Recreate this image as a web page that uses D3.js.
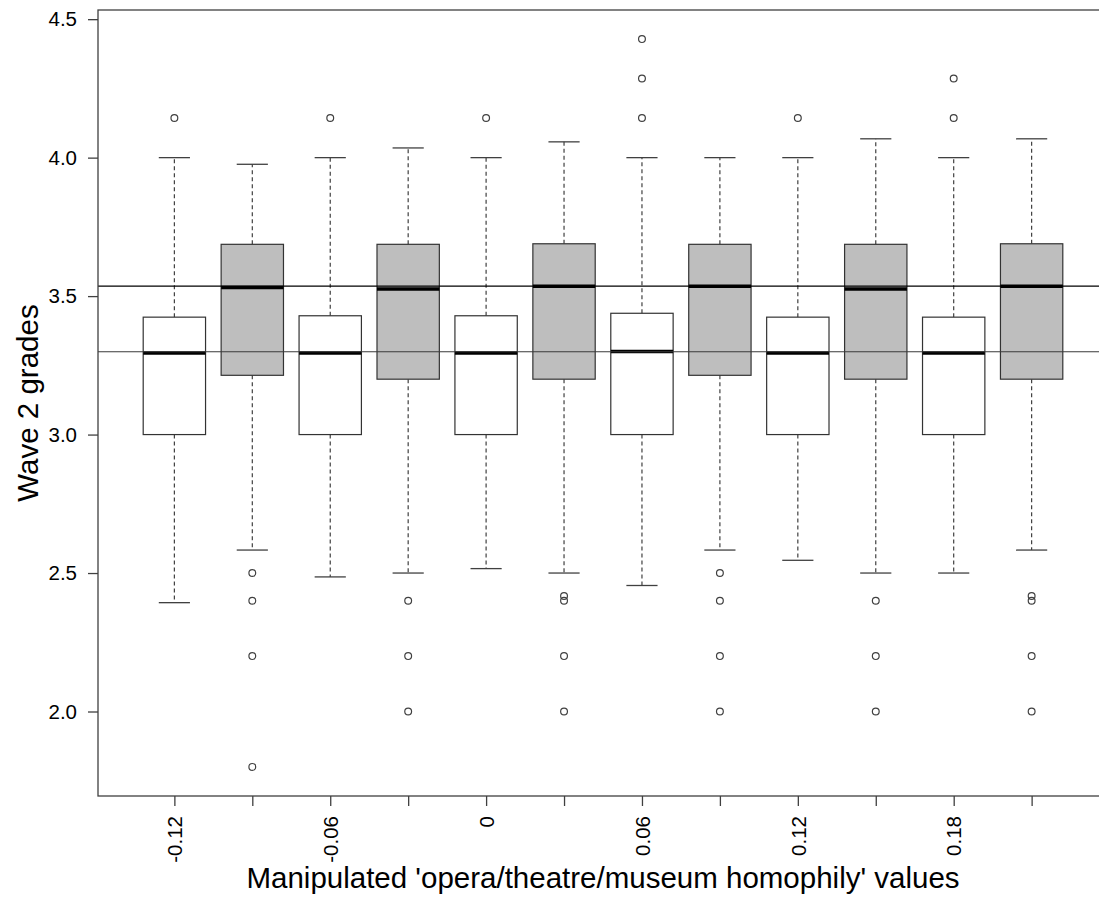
<!DOCTYPE html>
<html>
<head>
<meta charset="utf-8">
<script src="https://cdn.jsdelivr.net/npm/d3@7"></script>
<style>
  html, body { margin: 0; padding: 0; background: #ffffff; }
  svg { display: block; font-family: "Liberation Sans", Arial, sans-serif; }
</style>
</head>
<body>
<svg id="chart" width="1099" height="902"></svg>
<script>
// ---- data ----
const tickLabels = ["-0.12", "", "-0.06", "", "0", "", "0.06", "", "0.12", "", "0.18", ""];
const groups = ["white", "gray", "white", "gray", "white", "gray", "white", "gray", "white", "gray", "white", "gray"];
const lowerWhisker = [2.393, 2.583, 2.486, 2.5, 2.516, 2.5, 2.455, 2.583, 2.546, 2.5, 2.5, 2.583];
const q1 = [3.0, 3.214, 3.0, 3.2, 3.0, 3.2, 3.0, 3.214, 3.0, 3.2, 3.0, 3.2];
const medians = [3.295, 3.531, 3.295, 3.526, 3.295, 3.536, 3.3, 3.536, 3.295, 3.526, 3.295, 3.536];
const q3 = [3.424, 3.687, 3.429, 3.687, 3.429, 3.689, 3.438, 3.687, 3.424, 3.687, 3.424, 3.689];
const upperWhisker = [4.0, 3.976, 4.0, 4.035, 4.0, 4.057, 4.0, 4.0, 4.0, 4.068, 4.0, 4.068];
const outliers = [
  [4.143],
  [2.5, 2.4, 2.2, 1.8],
  [4.143],
  [2.4, 2.2, 2.0],
  [4.143],
  [2.417, 2.4, 2.2, 2.0],
  [4.143, 4.286, 4.428],
  [2.5, 2.4, 2.2, 2.0],
  [4.143],
  [2.4, 2.2, 2.0],
  [4.143, 4.286],
  [2.417, 2.4, 2.2, 2.0]
];
const referenceLines = [3.536, 3.299];
const yTicks = [2.0, 2.5, 3.0, 3.5, 4.0, 4.5];
const xTitle = "Manipulated 'opera/theatre/museum homophily' values";
const yTitle = "Wave 2 grades";

// ---- layout ----
const svg = d3.select("#chart");
const plot = { left: 98, right: 1108, top: 10, bottom: 796 };
const n = tickLabels.length;

const allVals = [].concat(lowerWhisker, upperWhisker, outliers.flat());
const yMin = d3.min(allVals), yMax = d3.max(allVals);
const yPad = 0.04 * (yMax - yMin);
const y = d3.scaleLinear().domain([yMin - yPad, yMax + yPad]).range([plot.bottom, plot.top]);
const xPad = 0.04 * n;
const x = d3.scaleLinear().domain([0.5 - xPad, n + 0.5 + xPad]).range([plot.left, plot.right]);
const unit = x(2) - x(1);
const boxW = 0.8 * unit;
const capW = 0.5 * boxW;
const fills = { white: "#ffffff", gray: "#bebebe" };
const lineCol = "#404040";

const boxes = d3.range(n).map(i => ({
  i, pos: i + 1, group: groups[i],
  lo: lowerWhisker[i], q1: q1[i], med: medians[i], q3: q3[i], hi: upperWhisker[i],
  out: outliers[i]
}));

const g = svg.append("g");

// whiskers
g.selectAll(".whisk-up").data(boxes).join("line")
  .attr("x1", d => x(d.pos)).attr("x2", d => x(d.pos))
  .attr("y1", d => y(d.q3)).attr("y2", d => y(d.hi))
  .attr("stroke", lineCol).attr("stroke-width", 1.2).attr("stroke-dasharray", "4,3");
g.selectAll(".whisk-lo").data(boxes).join("line")
  .attr("x1", d => x(d.pos)).attr("x2", d => x(d.pos))
  .attr("y1", d => y(d.q1)).attr("y2", d => y(d.lo))
  .attr("stroke", lineCol).attr("stroke-width", 1.2).attr("stroke-dasharray", "4,3");
// caps
g.selectAll(".cap-up").data(boxes).join("line")
  .attr("x1", d => x(d.pos) - capW / 2).attr("x2", d => x(d.pos) + capW / 2)
  .attr("y1", d => y(d.hi)).attr("y2", d => y(d.hi))
  .attr("stroke", lineCol).attr("stroke-width", 1.3);
g.selectAll(".cap-lo").data(boxes).join("line")
  .attr("x1", d => x(d.pos) - capW / 2).attr("x2", d => x(d.pos) + capW / 2)
  .attr("y1", d => y(d.lo)).attr("y2", d => y(d.lo))
  .attr("stroke", lineCol).attr("stroke-width", 1.3);
// boxes
g.selectAll(".box").data(boxes).join("rect")
  .attr("x", d => x(d.pos) - boxW / 2).attr("width", boxW)
  .attr("y", d => y(d.q3)).attr("height", d => y(d.q1) - y(d.q3))
  .attr("fill", d => fills[d.group]).attr("stroke", "#333333").attr("stroke-width", 1.2);
// medians
g.selectAll(".med").data(boxes).join("line")
  .attr("x1", d => x(d.pos) - boxW / 2).attr("x2", d => x(d.pos) + boxW / 2)
  .attr("y1", d => y(d.med)).attr("y2", d => y(d.med))
  .attr("stroke", "#000000").attr("stroke-width", 3.5);
// outliers
const outPts = boxes.flatMap(d => d.out.map(v => ({ pos: d.pos, v })));
g.selectAll(".out").data(outPts).join("circle")
  .attr("cx", d => x(d.pos)).attr("cy", d => y(d.v)).attr("r", 3.4)
  .attr("fill", "none").attr("stroke", lineCol).attr("stroke-width", 1.2);

// reference lines
g.selectAll(".ref").data(referenceLines).join("line")
  .attr("x1", plot.left).attr("x2", plot.right)
  .attr("y1", d => y(d)).attr("y2", d => y(d))
  .attr("stroke", (d, i) => i === 0 ? "#000000" : "#3a3a3a").attr("stroke-width", 1.2);

// frame
svg.append("rect")
  .attr("x", plot.left).attr("y", plot.top)
  .attr("width", plot.right - plot.left).attr("height", plot.bottom - plot.top)
  .attr("fill", "none").attr("stroke", lineCol).attr("stroke-width", 1.3);

// y axis
const yAxis = d3.axisLeft(y).tickValues(yTicks).tickFormat(d3.format(".1f")).tickSize(10).tickPadding(11);
const ya = svg.append("g").attr("transform", `translate(${plot.left},0)`).call(yAxis);
ya.select(".domain").remove();
ya.selectAll(".tick line").attr("stroke", lineCol).attr("stroke-width", 1.3);
ya.selectAll(".tick text").attr("font-size", 20.5).attr("fill", "#000")
  .attr("font-family", "'Liberation Sans', Arial, sans-serif");

// x axis
const xAxis = d3.axisBottom(x).tickValues(d3.range(1, n + 1)).tickFormat(d => tickLabels[d - 1]).tickSize(10);
const xa = svg.append("g").attr("transform", `translate(0,${plot.bottom})`).call(xAxis);
xa.select(".domain").remove();
xa.selectAll(".tick line").attr("stroke", lineCol).attr("stroke-width", 1.3);
xa.selectAll(".tick text")
  .attr("font-size", 20.5).attr("fill", "#000")
  .attr("font-family", "'Liberation Sans', Arial, sans-serif")
  .attr("text-anchor", "end")
  .attr("x", 0).attr("y", 0).attr("dy", "0.35em")
  .attr("transform", "translate(0,20) rotate(-90)");

// titles
svg.append("text")
  .attr("x", (plot.left + plot.right) / 2).attr("y", 888)
  .attr("text-anchor", "middle").attr("font-size", 29.5).attr("fill", "#000")
  .text(xTitle);
svg.append("text")
  .attr("transform", `translate(38,${(plot.top + plot.bottom) / 2}) rotate(-90)`)
  .attr("text-anchor", "middle").attr("font-size", 29.5).attr("fill", "#000")
  .text(yTitle);
</script>
</body>
</html>
